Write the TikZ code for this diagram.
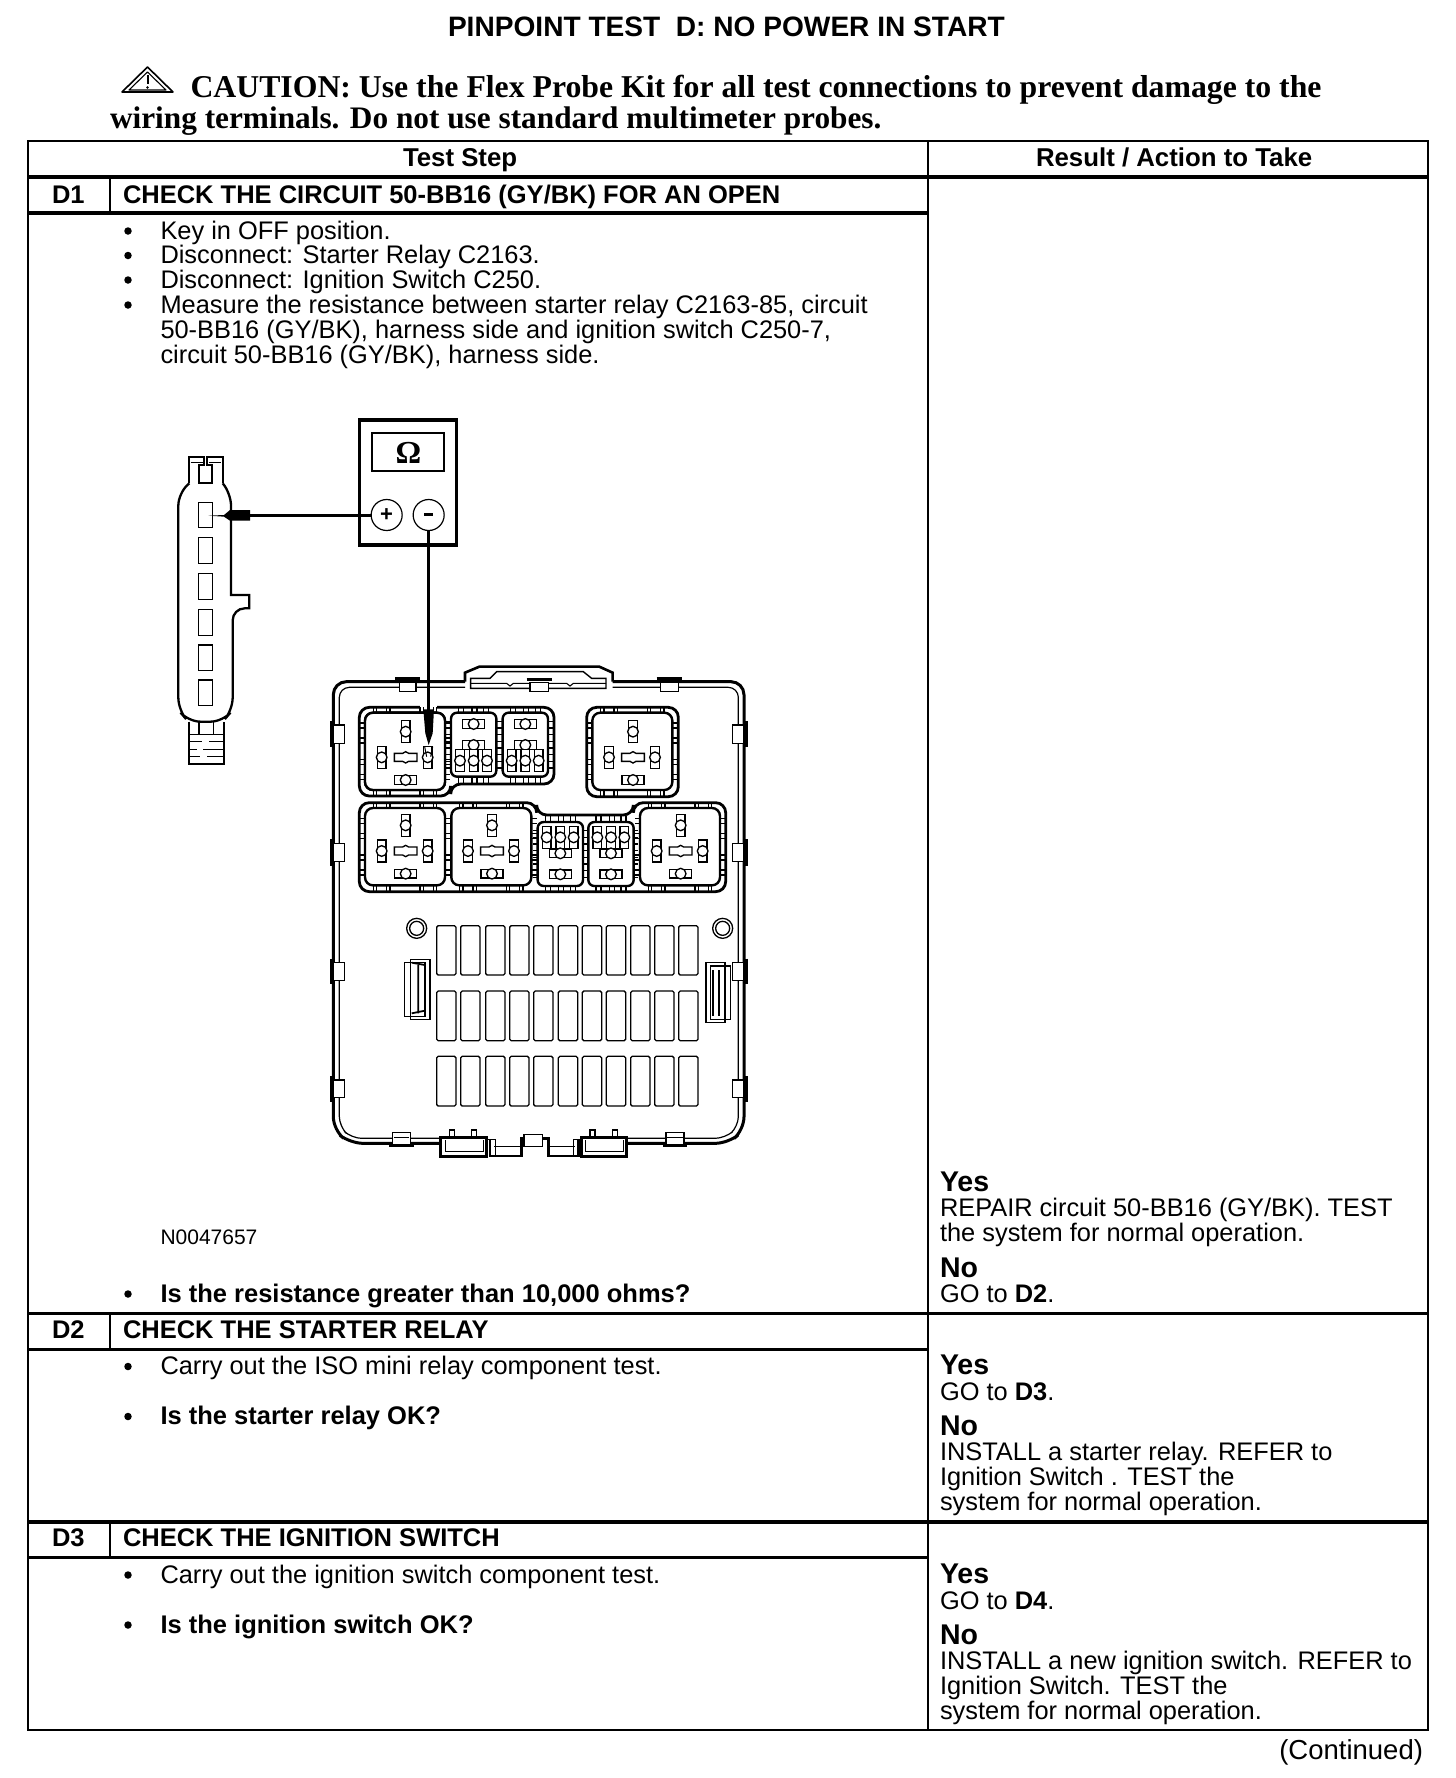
\documentclass[tikz,border=0pt]{standalone}
\usepackage{fontspec}
\setmainfont{Liberation Sans}
\newfontfamily\timesb{Liberation Serif}[BoldFont={Liberation Serif Bold}]
\newcommand{\fs}[1]{\fontsize{#1}{#1}\selectfont}
\tikzset{
 txt/.style={anchor=base west,inner sep=0pt,outer sep=0pt,font=\fs{25.4}},
 bld/.style={anchor=base west,inner sep=0pt,outer sep=0pt,font=\fs{25.5}\bfseries},
 yn/.style={anchor=base west,inner sep=0pt,outer sep=0pt,font=\fs{28.5}\bfseries},
 head/.style={anchor=base west,inner sep=0pt,outer sep=0pt,font=\fs{25.5}\bfseries},
 caut/.style={anchor=base west,inner sep=0pt,outer sep=0pt,font=\fs{31.6}\timesb\bfseries},
 bul/.style={circle,fill=black,inner sep=0pt,minimum size=7.5pt},
 rule/.style={line width=2pt},
 hrule/.style={line width=3.2pt},
 thin1/.style={line width=1.35pt},
 wall/.style={line width=2.4pt},
 vc/.pic={\draw[thin1,fill=white](-13,-33) rectangle (13,33);\draw[thin1,fill=white](0,0) circle (16);},
 hc/.pic={\draw[thin1,fill=white](-33,-13) rectangle (33,13);\draw[thin1,fill=white](0,0) circle (16);},
 mc/.pic={\draw[thin1,fill=white](-34,-12)--(-9,-12)--(0,-17)--(9,-12)--(34,-12)--(34,12)--(9,12)--(0,17)--(-9,12)--(-34,12)--cycle;},
 bigc/.pic={
  \foreach \t in {-95,-85,-55,-45,45,55,85,95}{
   \draw[thin1](\t,-116)--(\t,-134);\draw[thin1](\t,116)--(\t,134);}
  \foreach \t in {-85,-70,-40,-25,25,40,70,85}{
   \draw[thin1](-120,\t)--(-136,\t);\draw[thin1](120,\t)--(136,\t);}
  \draw[wall,fill=white,rounded corners=8pt](-120,-116) rectangle (120,116);
 },
 bigk/.pic={
  \pic at (2,-60) {vc};\pic at (2,17) {mc};\pic at (-70,17) {vc};\pic at (68,17) {vc};\pic at (2,85) {hc};
 },
 smalc/.pic={
  \foreach \t in {-45,-30,-5,10,30,45}{
   \draw[thin1](\t,-96)--(\t,-114);\draw[thin1](\t,96)--(\t,114);}
  \foreach \t in {-70,-50,-30,-10,10,30,50,70}{
   \draw[thin1](-68,\t)--(-82,\t);\draw[thin1](68,\t)--(82,\t);}
  \draw[wall,fill=white,rounded corners=6pt](-68,-96) rectangle (68,96);
 },
 fusebox/.style={line width=1.3pt,rounded corners=1.5pt},
}
\begin{document}
\begin{tikzpicture}[x=1pt,y=-1pt,line cap=butt]
\useasboundingbox (0,0) rectangle (1456,1778);
\fill[white](0,0) rectangle (1456,1778);

% title and caution
\node[head,font=\fs{28.1}\bfseries] (title) at (448,36) {PINPOINT TEST\ \ D: NO POWER IN START};
\draw[line width=1.6pt,line join=round](147.5,67)--(173,92)--(122,92)--cycle;
\draw[line width=1.1pt,line join=round](147.5,72)--(166,90)--(129,90)--cycle;
\draw[line width=2pt](147.5,75)--(147.5,84);
\fill(147.5,87.5) circle (1.3);
\node[caut,font=\fs{31.75}\timesb\bfseries] (c1) at (190.5,97) {CAUTION: Use the Flex Probe Kit for all test connections to prevent damage to the};
\node[caut,font=\fs{31.3}\timesb\bfseries] (c2) at (110,128) {wiring terminals. Do not use standard multimeter probes.};

% table
\coordinate (tl) at (27.5,141);\coordinate (tr) at (1428,141);
\coordinate (bl) at (27.5,1730);\coordinate (br) at (1428,1730);
\draw[rule] (tl)--(tr)--(br)--(bl)--cycle;
\coordinate (mt) at (928,141);\coordinate (mb) at (928,1730);
\draw[rule] (mt)--(mb);
\draw[hrule](27.5,177)--(1428,177);
\draw[hrule](27.5,213)--(928,213);
\draw[hrule](27.5,1313.5)--(1428,1313.5);
\draw[hrule](27.5,1349.5)--(928,1349.5);
\draw[hrule](27.5,1522)--(1428,1522);
\draw[hrule](27.5,1557.5)--(928,1557.5);
\draw[rule](110,177)--(110,213);
\draw[rule](110,1313.5)--(110,1349.5);
\draw[rule](110,1522)--(110,1557.5);

\node[head,font=\fs{25.8}\bfseries] (hts) at (403,166) {Test Step};
\node[head,font=\fs{25.8}\bfseries] (hra) at (1036,166) {Result / Action to Take};
\node[head] (d1) at (52,203) {D1};
\node[head] (d1t) at (123,203) {CHECK THE CIRCUIT 50-BB16 (GY/BK) FOR AN OPEN};

\foreach \n/\y in {b1/231,b2/255.5,b3/280,b4/305,b5/1294,b6/1366.5,b7/1416.5,b8/1575,b9/1625}{
 \node[bul] (\n) at (128,\y) {};}
\node[txt] (t1) at (160.5,239) {Key in OFF position.};
\node[txt] (t2) at (160.5,263) {Disconnect: Starter Relay C2163.};
\node[txt] (t3) at (160.5,288) {Disconnect: Ignition Switch C250.};
\node[txt] (t4) at (160.5,313) {Measure the resistance between starter relay C2163-85, circuit};
\node[txt] (t5) at (160.5,338) {50-BB16 (GY/BK), harness side and ignition switch C250-7,};
\node[txt] (t6) at (160.5,363) {circuit 50-BB16 (GY/BK), harness side.};
\node[txt,font=\fs{21}] (fig) at (160.5,1244) {N0047657};
\node[bld] (q1) at (160.5,1302.5) {Is the resistance greater than 10,000 ohms?};

\node[yn] (y1) at (940,1191) {Yes};
\node[txt] (y1a) at (940,1216.5) {REPAIR circuit 50-BB16 (GY/BK). TEST};
\node[txt] (y1b) at (940,1241.5) {the system for normal operation.};
\node[yn] (n1) at (940,1277) {No};
\node[txt] (n1a) at (940,1302.5) {GO to \textbf{D2}.};

\node[head] (d2) at (52,1338.5) {D2};
\node[head] (d2t) at (123,1338.5) {CHECK THE STARTER RELAY};
\node[txt] (t7) at (160.5,1374.5) {Carry out the ISO mini relay component test.};
\node[bld] (q2) at (160.5,1424.5) {Is the starter relay OK?};
\node[yn] (y2) at (940,1374.5) {Yes};
\node[txt] (y2a) at (940,1400.5) {GO to \textbf{D3}.};
\node[yn] (n2) at (940,1435.5) {No};
\node[txt] (n2a) at (940,1460.5) {INSTALL a starter relay. REFER to};
\node[txt] (n2b) at (940,1485.5) {Ignition Switch . TEST the};
\node[txt] (n2c) at (940,1510.5) {system for normal operation.};

\node[head] (d3) at (52,1546.5) {D3};
\node[head] (d3t) at (123,1546.5) {CHECK THE IGNITION SWITCH};
\node[txt] (t8) at (160.5,1583.5) {Carry out the ignition switch component test.};
\node[bld] (q3) at (160.5,1633.5) {Is the ignition switch OK?};
\node[yn] (y3) at (940,1583.5) {Yes};
\node[txt] (y3a) at (940,1609) {GO to \textbf{D4}.};
\node[yn] (n3) at (940,1644.5) {No};
\node[txt] (n3a) at (940,1669.5) {INSTALL a new ignition switch. REFER to};
\node[txt] (n3b) at (940,1694.5) {Ignition Switch. TEST the};
\node[txt] (n3c) at (940,1719.5) {system for normal operation.};
\node[txt,anchor=base east,font=\fs{27.5}] (cont) at (1423,1759) {(Continued)};

% multimeter and harness connector (zoom coordinates)
\begin{scope}[xshift=150pt,yshift=-400pt,x=0.33333pt,y=-0.33333pt]
 \draw[line width=3.2pt](628,60) rectangle (920,435);
 \draw[line width=1.8pt](665,98) rectangle (883,213);
 \node[font=\fs{32}\timesb\bfseries,inner sep=0pt] (om) at (775,160) {Ω};
 \node[circle,draw,line width=1.2pt,minimum size=31pt,inner sep=0pt,font=\fs{22}\bfseries] (plus) at (710,345) {+};
 \node[circle,draw,line width=1.2pt,minimum size=31pt,inner sep=0pt,font=\fs{22}\bfseries] (minus) at (836,345) {\raisebox{1pt}{\rule{9pt}{2.2pt}}};
 % connector body
 \draw[line width=2.3pt,rounded corners=12pt](118,250)--(85,280)--(85,930)--(115,965)--(218,965)--(248,930)--(248,625)[sharp corners]--(298,625)--(298,585)--(243,585)[rounded corners=12pt]--(243,280)--(218,250);
 \draw[line width=2.3pt,line join=miter](118,250)--(118,172)--(162,172)--(162,195)--(148,195)--(148,248)--(185,248)--(185,195)--(172,195)--(172,172)--(218,172)--(218,250);
 \draw[line width=1pt](122,188)--(158,188)(176,188)--(214,188);
 \foreach \a/\b in {308/383,413/491,520/599,628/706,735/811,840/917}{
  \draw[line width=1.4pt](145,\a) rectangle (187,\b);}
 \draw[line width=2.3pt](118,965)--(118,1092)--(222,1092)--(222,965);
 \draw[line width=1.5pt](147,965)--(147,1003)(190,965)--(190,1003)(118,1003)--(222,1003);
 \draw[line width=1.5pt](118,1025)--(155,1025)(178,1025)--(222,1025)(118,1048)--(140,1048)(160,1048)--(222,1048)(118,1070)--(150,1070)(172,1070)--(222,1070);
 % probe in harness connector
 \coordinate (pa) at (300,345);
 \draw[line width=3pt](plus.west)--(pa);
 \fill(300,330)--(240,330)--(222,345)--(175,347)--(222,350)--(240,362)--(300,362)--cycle;
\end{scope}

% fuse box upper part (zoom coordinates)
\begin{scope}[xshift=320pt,yshift=-650pt,x=0.33333pt,y=-0.33333pt]
 % housing
 \draw[line width=3pt,rounded corners=13pt](435,95)--(40,95)--(40,1440)--(90,1480)--(362,1480);
 \draw[line width=3pt,rounded corners=13pt](878,95)--(1272,95)--(1272,1440)--(1225,1480)--(920,1480);
 \draw[line width=1.2pt,rounded corners=10pt](435,112)--(58,112)--(58,1430)--(95,1465)--(362,1465);
 \draw[line width=1.2pt,rounded corners=10pt](878,112)--(1255,112)--(1255,1430)--(1215,1465)--(920,1465);
 \draw[line width=2.6pt](435,95)--(435,68)--(478,50)--(838,50)--(878,68)--(878,95);
 \draw[line width=1.4pt](452,115)--(452,85)--(510,85)--(530,65)--(790,65)--(815,85)--(858,85)--(858,115)--cycle;
 \draw[line width=1.1pt](452,100)--(560,100)--(570,108)--(580,100)--(740,100)--(750,108)--(760,100)--(858,100);
 \foreach \a/\b in {238/288,630/685,1022/1075}{
  \draw[line width=1.6pt,fill=white](\a,98) rectangle (\b,125);}
 \draw[line width=3.4pt](225,87)--(300,87)(1010,87)--(1085,87)(620,88)--(695,88);
 \foreach \yy in {225,580}{
  \draw[line width=1.5pt,fill=white](40,\yy) rectangle (73,\yy+55);
  \draw[line width=1.5pt,fill=white](1238,\yy) rectangle (1272,\yy+55);
  \draw[line width=4pt](35,\yy-12)--(35,\yy+67)(1277,\yy-12)--(1277,\yy+67);}
 % relay groups
 \draw[line width=2.8pt,fill=white,rounded corners=10pt](118,172)--(702,172)--(702,402)--(392,402)--(392,438)--(118,438)--cycle;
 \draw[line width=2.8pt,fill=white,rounded corners=10pt](800,172)--(1075,172)--(1075,440)--(800,440)--cycle;
 \draw[line width=2.8pt,fill=white,rounded corners=10pt](118,458)--(650,458)--(650,495)--(940,495)--(940,458)--(1217,458)--(1217,725)--(118,725)--cycle;
 \draw[white,line width=4pt](300,172)--(352,172);
 \pic at (255,304) {bigc};\pic at (937,304) {bigc};
 \pic at (255,590) {bigc};\pic at (514,590) {bigc};\pic at (1080,590) {bigc};
 \pic at (461,284) {smalc};\pic at (616,284) {smalc};
 \pic at (721,612) {smalc};\pic at (873,612) {smalc};
 \draw[wall,fill=white,rounded corners=8pt](135,188) rectangle (375,420);
 \pic at (255,305) {bigk};\pic at (937,305) {bigk};
 \pic at (255,586) {bigk};\pic at (514,586) {bigk};\pic at (1080,586) {bigk};
 % small relay contacts
 \foreach \cx in {461,616}{
  \pic at (\cx,222) {hc};\pic at (\cx,285) {hc};
  \pic at (\cx-41,332) {vc};\pic at (\cx,332) {vc};\pic at (\cx+40,332) {vc};}
 \foreach \cx in {721,873}{
  \pic at (\cx-41,562) {vc};\pic at (\cx,562) {vc};\pic at (\cx+40,562) {vc};
  \pic at (\cx,610) {hc};\pic at (\cx,673) {hc};}
\end{scope}

% fuse box lower part (zoom coordinates)
\begin{scope}[xshift=320pt,yshift=-890pt,x=0.33333pt,y=-0.33333pt]
 \foreach \fx in {350,422,497,569,641,715,787,859,932,1004,1076}{
  \draw[fusebox](\fx,107) rectangle (\fx+58,255);
  \draw[fusebox](\fx,303) rectangle (\fx+58,452);
  \draw[fusebox](\fx,499) rectangle (\fx+58,648);}
 \foreach \cx in {290,1208}{
  \draw[line width=1.3pt](\cx,115) circle (30);
  \draw[line width=1.3pt](\cx,115) circle (21);}
 \draw[line width=1.4pt](253,218) rectangle (315,380);
 \draw[line width=1.4pt](272,208) rectangle (330,388);
 \draw[line width=1.8pt](295,225)--(295,370)(315,225)--(315,370)(275,370)--(315,362)(275,218)--(315,225);
 \draw[line width=1.4pt](1158,218) rectangle (1215,397);
 \draw[line width=1.4pt](1172,228) rectangle (1232,388);
 \draw[line width=1.8pt](1178,240)--(1178,378)(1198,240)--(1198,378);
 \foreach \yy in {218,570}{
  \draw[line width=1.5pt,fill=white](40,\yy) rectangle (73,\yy+53);
  \draw[line width=1.5pt,fill=white](1238,\yy) rectangle (1272,\yy+53);
  \draw[line width=4pt](35,\yy-12)--(35,\yy+65)(1277,\yy-12)--(1277,\yy+65);}
 \foreach \a in {218,1038}{
  \draw[line width=1.6pt,fill=white](\a,728) rectangle (\a+54,768);
  \draw[line width=1pt](\a+4,742)--(\a+50,742);
  \draw[line width=2.6pt](\a-10,766)--(\a+64,766);}
 \foreach \a in {388,455,810,878}{\draw[line width=1.3pt](\a,720) rectangle (\a+15,740);}
 \draw[line width=3pt,fill=white](362,742) rectangle (500,798);
 \draw[line width=3pt,fill=white](785,742) rectangle (920,798);
 \draw[line width=1pt](376,750)--(376,785)--(490,785)--(490,750);
 \draw[line width=1pt](795,750)--(795,785)--(910,785)--(910,750);
 \draw[line width=2.4pt](510,750)--(510,798)--(605,798)--(605,745)--(685,745)--(685,798)--(775,798)--(775,750);
 \draw[line width=1.2pt](522,770)--(600,770)(690,770)--(765,770);
 \draw[line width=1.4pt,fill=white](612,733) rectangle (668,770);
 \draw[line width=1pt](500,748)--(525,748)--(525,798)(760,748)--(785,748)(760,748)--(760,798);
\end{scope}

% second probe, over the relay
\begin{scope}[xshift=150pt,yshift=-400pt,x=0.33333pt,y=-0.33333pt]
 \coordinate (pb) at (836,930);
 \draw[line width=3.4pt](minus.south)--(pb);
 \fill(820,928)--(852,928)--(848,1000)--(836,1035)--(826,1000)--cycle;
 \draw[line width=1pt](824,1040)--(830,1070)(848,1040)--(842,1070);
\end{scope}
\end{tikzpicture}
\end{document}
